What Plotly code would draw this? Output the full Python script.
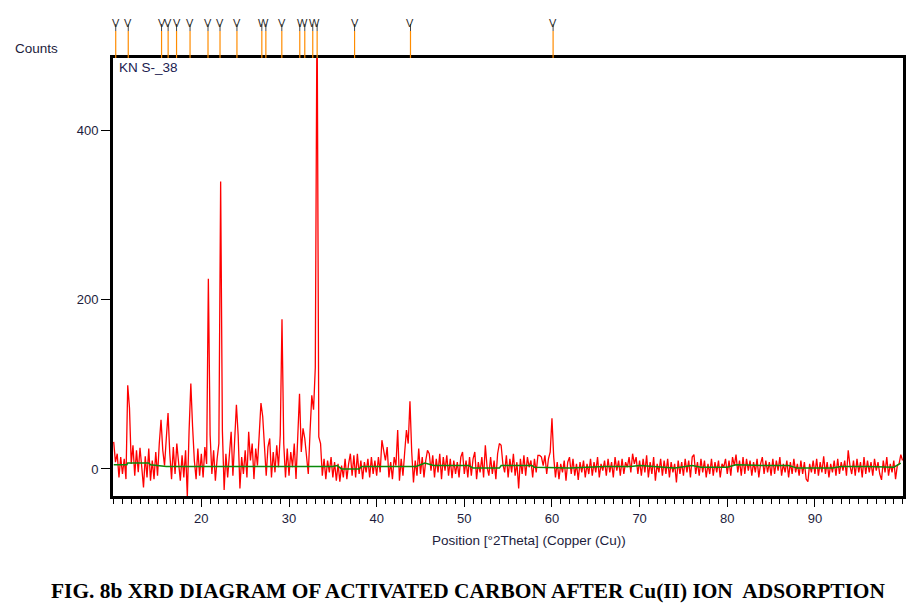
import numpy as np
import plotly.graph_objects as go

# ---- data ----
angle_start = 10.0
angle_step = 0.2

counts_10_20 = [32, 8, 18, -10, 14, -6, 12, -12, 99, 72,
                6, 28, -8, 22, -4, 25, 2, -22, 15, -10,
                24, -14, 10, -12, 20, -8, 30, 58, 22, 4,
                36, 66, 18, -12, 26, -6, 30, 8, -14, 16,
                -10, 22, -33, 45, 101, 50, 10, -12, 24, -8]
counts_20_30 = [18, -10, 26, 6, 225, 40, -6, 22, -14, 12,
                30, 340, 45, -25, 18, -10, 20, 44, -8, 30,
                76, 40, -23, 14, -6, 22, -10, 44, 10, 30,
                -12, 24, 4, 40, 78, 62, 30, -8, 26, 36,
                -10, 20, -4, 28, 2, 40, 177, 30, -10, 24]
counts_30_40 = [-8, 20, 2, 30, -12, 40, 89, 20, 48, 36,
                10, -6, 44, 87, 70, 120, 560, 38, 30, -8,
                12, -12, 10, -4, 14, -10, 8, -14, 6, -15,
                4, -10, 12, -12, 6, 18, -8, 16, -10, 18,
                -6, 10, -12, 8, -4, 12, -10, 14, -6, 10]
counts_40_50 = [-8, 14, -4, 34, 22, 10, 26, -10, 8, -12,
                14, 4, 46, -14, 12, -8, 20, 46, 30, 80,
                20, -16, 10, -8, 24, -6, 14, -10, 10, 22,
                18, -2, 16, -10, 12, -4, 18, -12, 14, -2,
                16, -8, 12, -11, 10, -6, 8, -10, 14, 20]
counts_50_60 = [-6, 10, -10, 14, -8, 12, 20, -12, 8, -4,
                14, -10, 28, 2, -8, 14, -6, 10, -12, 18,
                30, 28, 6, -4, 16, -10, 12, -4, 18, -8,
                8, -23, 12, -6, 16, -8, 14, 2, 10, -10,
                12, -4, 16, 16, 14, 4, 16, -6, 12, 20]
counts_60_70 = [60, 14, -10, 8, -12, 6, -4, 10, -14, 8,
                14, -6, 12, -8, 6, -13, 8, -4, 10, -10,
                6, -6, 12, -8, 8, -4, 14, -10, 6, -2,
                10, -8, 12, -4, 8, -10, 14, -2, 10, -8,
                12, -6, 8, 2, 14, -4, 18, 6, 14, -6]
counts_70_80 = [10, -8, 12, -4, 16, -10, 8, -6, 14, -14,
                6, -4, 12, -8, 10, -6, 12, -10, 8, -4,
                6, -16, 10, -6, 8, -8, 12, -4, 10, -10,
                14, 17, -6, 8, -8, 12, -4, 10, -10, 6,
                -6, 12, -8, 8, -4, 10, -10, 6, 2, 12]
counts_80_90 = [-6, 10, -8, 14, 4, 17, -4, 10, -8, 14,
                -6, 12, -2, 10, -8, 8, -4, 12, -10, 6,
                14, -6, 10, -4, 8, -8, 12, -6, 10, -2,
                14, -8, 6, -4, 10, -10, 8, -6, 12, -4,
                6, -8, 10, -6, 8, -12, -15, 6, -4, 10]
counts_90_100 = [-6, 12, -8, 8, -4, 15, -6, 8, -10, 6,
                 -4, 10, -8, 12, -6, 8, -2, 10, -8, 22,
                 4, -6, 10, -8, 12, -4, 8, -10, 14, -6,
                 10, -4, 8, -8, 12, -2, 8, -6, -13, 10,
                 -4, 14, -8, 6, -4, 10, -12, 4, 6, 17,
                 10]

background_angles = [10.0, 11.5, 11.6, 14.0, 14.2, 15.5, 16.0, 25.0, 35.0, 35.5,
                     36.0, 38.0, 38.3, 44.5, 45.5, 46.5, 50.5, 51.0, 54.0, 54.2,
                     57.7, 58.0, 62.0, 66.0, 69.0, 70.0, 74.0, 76.0, 77.0, 80.0,
                     81.0, 84.0, 87.0, 88.0, 92.0, 93.0, 96.0, 99.0, 99.8]
background_counts = [5, 5, 7, 7, 5, 4, 3, 3, 3, 4,
                     0, 0, 3, 3, 7, 4, 4, 1, 1, 4,
                     4, 2, 1, 3, 3, 4, 1, 4, 2, 2,
                     5, 4, 4, 1, 1, 3, 3, 2, 7]

reference_positions = [10.23, 11.66, 15.46, 16.21, 17.17, 18.71, 20.76, 22.13, 24.06, 26.90,
                       27.36, 29.18, 31.23, 31.80, 32.71, 33.21, 37.48, 43.86, 60.13]

x_tick_values = [20, 30, 40, 50, 60, 70, 80, 90]
y_tick_values = [0, 200, 400]

sample_name = "KN S-_38"
caption = "FIG. 8b XRD DIAGRAM OF ACTIVATED CARBON AFTER Cu(II) ION&nbsp; ADSORPTION"

# ---- build ----
counts = (counts_10_20 + counts_20_30 + counts_30_40 + counts_40_50 + counts_50_60
          + counts_60_70 + counts_70_80 + counts_80_90 + counts_90_100)
two_theta = np.round(angle_start + angle_step * np.arange(len(counts)), 2)

OFF = 8  # page body margin
W, H = 917 - OFF, 608 - OFF
ml, mt = 113 - OFF, 58 - OFF
mr = W - (906 - OFF)
mb = H - (496 - OFF)
plot_w = W - ml - mr
plot_h = H - mt - mb

def py(page_y):
    return ((496 - OFF) - (page_y - OFF)) / plot_h

def px(page_x):
    return ((page_x - OFF) - ml) / plot_w

fig = go.Figure()
fig.add_trace(go.Scatter(x=two_theta, y=counts, mode="lines",
                         line=dict(color="#ff0000", width=1.3), hoverinfo="skip"))
fig.add_trace(go.Scatter(x=background_angles, y=background_counts, mode="lines",
                         line=dict(color="#0a8a0a", width=1.5), hoverinfo="skip"))

font_main = "Arial, Liberation Sans, sans-serif"
tick_col = "#1c1c3c"

shapes = []
annotations = []
for pos in reference_positions:
    shapes.append(dict(type="line", xref="x", yref="paper", x0=pos, x1=pos,
                       y0=1, y1=py(31), line=dict(color="#ff8c00", width=1.2)))
    shapes.append(dict(type="line", xref="x", yref="paper", x0=pos, x1=pos,
                       y0=py(31), y1=py(24), line=dict(color="#444444", width=1)))

# glyphs: close pairs merge into a "W", others are "V"
i = 0
while i < len(reference_positions):
    pos = reference_positions[i]
    if i + 1 < len(reference_positions) and reference_positions[i + 1] - pos < 0.6:
        xg, glyph = (pos + reference_positions[i + 1]) / 2, "W"
        i += 2
    else:
        xg, glyph = pos, "V"
        i += 1
    annotations.append(dict(x=xg, y=py(23), xref="x", yref="paper", text=glyph,
                            showarrow=False, yanchor="middle", xanchor="center",
                            font=dict(family=font_main, size=11, color="#2a2a2a")))

annotations.append(dict(x=px(36.5), y=py(49), xref="paper", yref="paper",
                        text="Counts", showarrow=False, xanchor="center", yanchor="middle",
                        font=dict(family=font_main, size=13.5, color=tick_col)))
annotations.append(dict(x=px(117), y=py(58), xref="paper", yref="paper",
                        text=sample_name, showarrow=False, xanchor="left", yanchor="top",
                        font=dict(family=font_main, size=13.5, color="#202050")))
annotations.append(dict(x=px(531), y=py(540), xref="paper", yref="paper",
                        text="Position [°2Theta] (Copper (Cu))", showarrow=False,
                        xanchor="center", yanchor="middle",
                        font=dict(family=font_main, size=13.5, color=tick_col)))
annotations.append(dict(x=px(469), y=py(591), xref="paper", yref="paper",
                        text="<b>" + caption + "</b>", showarrow=False,
                        xanchor="center", yanchor="middle",
                        font=dict(family="Liberation Serif, Times New Roman, serif",
                                  size=21.4, color="#000000")))

fig.update_layout(
    width=W, height=H,
    margin=dict(l=ml, r=mr, t=mt, b=mb, pad=0),
    paper_bgcolor="white", plot_bgcolor="white",
    showlegend=False,
    shapes=shapes, annotations=annotations,
    font=dict(family=font_main, size=13, color=tick_col),
)
fig.update_xaxes(range=[9.92, 100.05], tickvals=x_tick_values, ticks="outside",
                 ticklen=8, tickwidth=1.2, tickcolor="black",
                 minor=dict(dtick=1, tick0=0, ticks="outside", ticklen=5, tickwidth=1, tickcolor="black"),
                 showline=True, linecolor="black", linewidth=3, mirror=True,
                 showgrid=False, zeroline=False,
                 tickfont=dict(family=font_main, size=13, color=tick_col))
fig.update_yaxes(range=[-32, 486], tickvals=y_tick_values, ticks="outside",
                 ticklen=9, tickwidth=1.2, tickcolor="black",
                 showline=True, linecolor="black", linewidth=3, mirror=True,
                 showgrid=False, zeroline=False,
                 tickfont=dict(family=font_main, size=13, color=tick_col))

fig.write_html("out.html")
